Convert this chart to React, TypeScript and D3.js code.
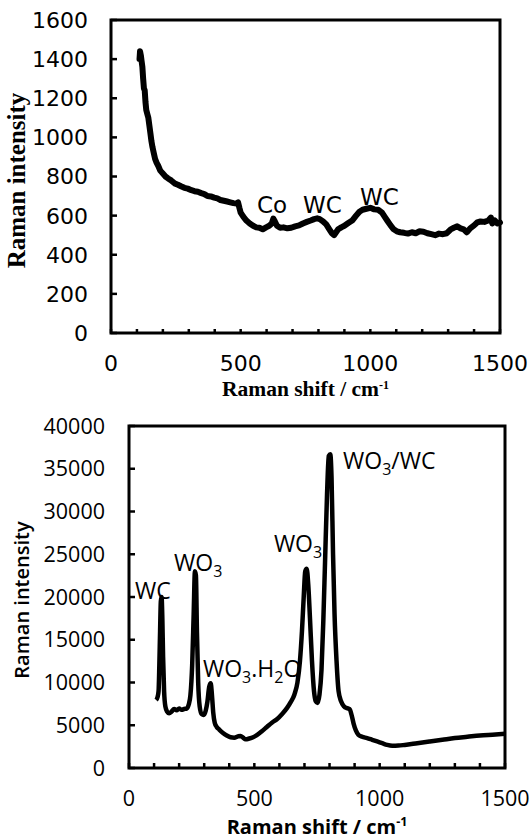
import React from 'react';
import * as d3 from 'd3';

// ---------- data ----------
const TOP_SHIFT = [110, 112, 115, 118, 121, 124, 127, 130, 133, 136, 140, 144, 148, 152, 156, 160, 165, 170, 176, 182, 190, 200, 210, 220, 232, 245, 258, 270, 283, 296, 310, 322, 335, 348, 360, 372, 385, 398, 410, 422, 435, 448, 460, 472, 484, 490, 495, 500, 510, 522, 535, 548, 560, 572, 585, 598, 610, 620, 626, 632, 640, 652, 665, 680, 695, 710, 725, 740, 755, 770, 783, 795, 805, 818, 830, 842, 852, 860, 868, 876, 888, 900, 915, 930, 945, 958, 970, 985, 1000, 1015, 1030, 1045, 1055, 1065, 1078, 1090, 1102, 1115, 1130, 1145, 1160, 1175, 1190, 1205, 1220, 1235, 1250, 1265, 1280, 1295, 1310, 1322, 1335, 1348, 1360, 1372, 1385, 1400, 1412, 1425, 1440, 1455, 1465, 1470, 1480, 1490, 1500];
const TOP_INTENSITY = [1400, 1440, 1420, 1390, 1360, 1300, 1250, 1240, 1180, 1140, 1120, 1100, 1060, 1020, 980, 950, 920, 890, 870, 855, 830, 815, 800, 790, 780, 765, 758, 750, 742, 738, 730, 725, 722, 715, 710, 700, 698, 692, 688, 680, 676, 672, 668, 664, 662, 668, 640, 615, 595, 575, 560, 548, 540, 538, 530, 540, 548, 560, 585, 570, 548, 538, 540, 535, 538, 545, 550, 560, 568, 575, 582, 586, 582, 570, 555, 530, 510, 500, 515, 530, 540, 548, 562, 575, 600, 620, 630, 635, 640, 632, 630, 615, 595, 575, 550, 530, 520, 515, 512, 508, 515, 510, 520, 518, 510, 505, 500, 508, 505, 510, 530, 538, 545, 535, 530, 515, 535, 550, 565, 570, 568, 575, 590, 560, 575, 560, 565];

const BOTTOM_SHIFT = [108, 114, 118, 121, 124, 127, 130, 133, 136, 140, 145, 152, 160, 170, 180, 190, 200, 210, 220, 230, 238, 245, 252, 258, 263, 267, 271, 276, 282, 290, 298, 306, 313, 320, 326, 331, 336, 342, 350, 360, 375, 390, 405, 420, 435, 445, 455, 465, 480, 495, 510, 530, 550, 570, 590, 610, 630, 645, 660, 672, 682, 690, 697, 703, 709, 715, 722, 730, 738, 745, 752, 760, 768, 775, 782, 790, 797, 803, 808, 814, 820, 828, 836, 846, 858, 870, 880, 888, 896, 905, 915, 930, 950, 970, 990, 1010, 1030, 1050, 1075, 1100, 1150, 1200, 1250, 1300, 1350, 1400, 1450, 1500];
const BOTTOM_INTENSITY = [7950, 8300, 9000, 12000, 16000, 19500, 20000, 17500, 13000, 9000, 7200, 6600, 6400, 6600, 6900, 6750, 6950, 6800, 6900, 6950, 7400, 8500, 12000, 18000, 23000, 22500, 16000, 10000, 7200, 6300, 6200, 6700, 7800, 9500, 9900, 8500, 6500, 5300, 4800, 4500, 4100, 3800, 3600, 3550, 3700, 3750, 3550, 3350, 3450, 3600, 3850, 4300, 4800, 5300, 5700, 6300, 7000, 7700, 8600, 10000, 12500, 16000, 20000, 23000, 23300, 21500, 17500, 12500, 9000, 7800, 7600, 8600, 11500, 17000, 24000, 32000, 36500, 36700, 34000, 25000, 18000, 12500, 9000, 7800, 7200, 7000, 6900, 6200, 5200, 4400, 3900, 3650, 3500, 3300, 3100, 2900, 2700, 2600, 2620, 2700, 2900, 3100, 3300, 3500, 3650, 3800, 3900, 4000];

const X_TICK_LABELS = [0, 500, 1000, 1500];
const X_MINOR_TICKS = d3.range(0, 1501, 100);
const TOP_Y_TICKS = [0, 200, 400, 600, 800, 1000, 1200, 1400, 1600];
const BOTTOM_Y_TICKS = [0, 5000, 10000, 15000, 20000, 25000, 30000, 35000, 40000];

const TOP_LABELS = ['Co', 'WC', 'WC'];
const TOP_LABEL_SHIFT = [563, 740, 960];
const TOP_LABEL_INTENSITY = [613, 613, 654];

const BOTTOM_LABELS = [['WC', ''], ['WO', '3'], ['WO', '3', '.H', '2', 'O'], ['WO', '3'], ['WO', '3', '/WC']];
const BOTTOM_LABEL_SHIFT = [24, 180, 295, 578, 854];
const BOTTOM_LABEL_INTENSITY = [19770, 23040, 10640, 25260, 34970];

// ---------- layout ----------
const TOP = { left: 111, right: 500, top: 20, bottom: 333 };
const BOT = { left: 129, right: 505, top: 426, bottom: 768 };

const topX = d3.scaleLinear().domain([0, 1500]).range([TOP.left, TOP.right]);
const topY = d3.scaleLinear().domain([0, 1600]).range([TOP.bottom, TOP.top]);
const botX = d3.scaleLinear().domain([0, 1500]).range([BOT.left, BOT.right]);
const botY = d3.scaleLinear().domain([0, 40000]).range([BOT.bottom, BOT.top]);

const topLine = d3.line<number>().x((_, i) => topX(TOP_SHIFT[i])).y((d) => topY(d));
const botLine = d3
  .line<number>()
  .x((_, i) => botX(BOTTOM_SHIFT[i]))
  .y((d) => botY(d))
  .curve(d3.curveMonotoneX);

const TOP_FONT = '"DejaVu Sans", Verdana, sans-serif';
const SERIF = '"Liberation Serif", "Times New Roman", serif';
const BOT_FONT = '"Open Sans", "Noto Sans", sans-serif';

export default function App() {
  return (
    <svg width={530} height={840} style={{ position: 'absolute', left: 0, top: 0, background: '#fff' }}>
      {/* ===== TOP CHART ===== */}
      <g>
        <rect x={TOP.left} y={TOP.top} width={TOP.right - TOP.left} height={TOP.bottom - TOP.top} fill="none" stroke="#000" strokeWidth={3} />
        {X_MINOR_TICKS.map((t) => (
          <line key={'tx' + t} x1={topX(t)} x2={topX(t)} y1={TOP.bottom} y2={TOP.bottom - 4} stroke="#000" strokeWidth={2.5} />
        ))}
        {TOP_Y_TICKS.map((t) => (
          <line key={'ty' + t} x1={TOP.left} x2={TOP.left + 6} y1={topY(t)} y2={topY(t)} stroke="#000" strokeWidth={2.5} />
        ))}
        {TOP_Y_TICKS.map((t) => (
          <text key={'tyl' + t} x={88} y={topY(t)} dy="0.36em" textAnchor="end" fontFamily={TOP_FONT} fontSize={22} fill="#000">
            {t}
          </text>
        ))}
        {X_TICK_LABELS.map((t) => (
          <text key={'txl' + t} x={topX(t)} y={371} textAnchor="middle" fontFamily={TOP_FONT} fontSize={22} fill="#000">
            {t}
          </text>
        ))}
        <path d={topLine(TOP_INTENSITY) || ''} fill="none" stroke="#000" strokeWidth={6} strokeLinejoin="round" strokeLinecap="round" />
        {TOP_LABELS.map((s, i) => (
          <text key={'tl' + i} x={topX(TOP_LABEL_SHIFT[i])} y={topY(TOP_LABEL_INTENSITY[i])} fontFamily={TOP_FONT} fontSize={23} fill="#000">
            {s}
          </text>
        ))}
        <text x={(TOP.left + TOP.right) / 2} y={396} textAnchor="middle" fontFamily={SERIF} fontWeight="bold" fontSize={21.5} fill="#000">
          Raman shift / cm<tspan dy={-7} fontSize={12}>-1</tspan>
        </text>
        <text transform={`translate(25,${(TOP.top + TOP.bottom) / 2 + 4}) rotate(-90)`} textAnchor="middle" fontFamily={SERIF} fontWeight="bold" fontSize={25} fill="#000">
          Raman intensity
        </text>
      </g>

      {/* ===== BOTTOM CHART ===== */}
      <g>
        <rect x={BOT.left} y={BOT.top} width={BOT.right - BOT.left} height={BOT.bottom - BOT.top} fill="none" stroke="#000" strokeWidth={3} />
        {X_MINOR_TICKS.map((t) => (
          <line key={'bx' + t} x1={botX(t)} x2={botX(t)} y1={BOT.bottom} y2={BOT.bottom - 5} stroke="#000" strokeWidth={2.5} />
        ))}
        {BOTTOM_Y_TICKS.map((t) => (
          <line key={'by' + t} x1={BOT.left} x2={BOT.left + 6} y1={botY(t)} y2={botY(t)} stroke="#000" strokeWidth={2.5} />
        ))}
        {BOTTOM_Y_TICKS.map((t) => (
          <text key={'byl' + t} x={105} y={botY(t)} dy="0.36em" textAnchor="end" fontFamily={BOT_FONT} fontSize={21.5} fill="#000">
            {t}
          </text>
        ))}
        {X_TICK_LABELS.map((t) => (
          <text key={'bxl' + t} x={botX(t)} y={806} textAnchor="middle" fontFamily={BOT_FONT} fontSize={21.5} fill="#000">
            {t}
          </text>
        ))}
        <path d={botLine(BOTTOM_INTENSITY) || ''} fill="none" stroke="#000" strokeWidth={4.5} strokeLinejoin="round" />
        {BOTTOM_LABELS.map((parts, i) => (
          <text key={'bl' + i} x={botX(BOTTOM_LABEL_SHIFT[i])} y={botY(BOTTOM_LABEL_INTENSITY[i])} fontFamily={BOT_FONT} fontSize={23} fill="#000">
            {parts.map((p, j) =>
              j % 2 === 1 ? (
                <tspan key={j} fontSize={16} dy={6}>
                  {p}
                </tspan>
              ) : (
                <tspan key={j} dy={j === 0 ? 0 : -6}>
                  {p}
                </tspan>
              )
            )}
          </text>
        ))}
        <text x={(BOT.left + BOT.right) / 2} y={833.5} textAnchor="middle" fontFamily={BOT_FONT} fontWeight="bold" fontSize={20} fill="#000">
          Raman shift / cm<tspan dy={-8} fontSize={12.5}>-1</tspan>
        </text>
        <text transform={`translate(29,${(BOT.top + BOT.bottom) / 2 + 3}) rotate(-90)`} textAnchor="middle" fontFamily={BOT_FONT} fontWeight={600} fontSize={20} fill="#000">
          Raman intensity
        </text>
      </g>
    </svg>
  );
}
